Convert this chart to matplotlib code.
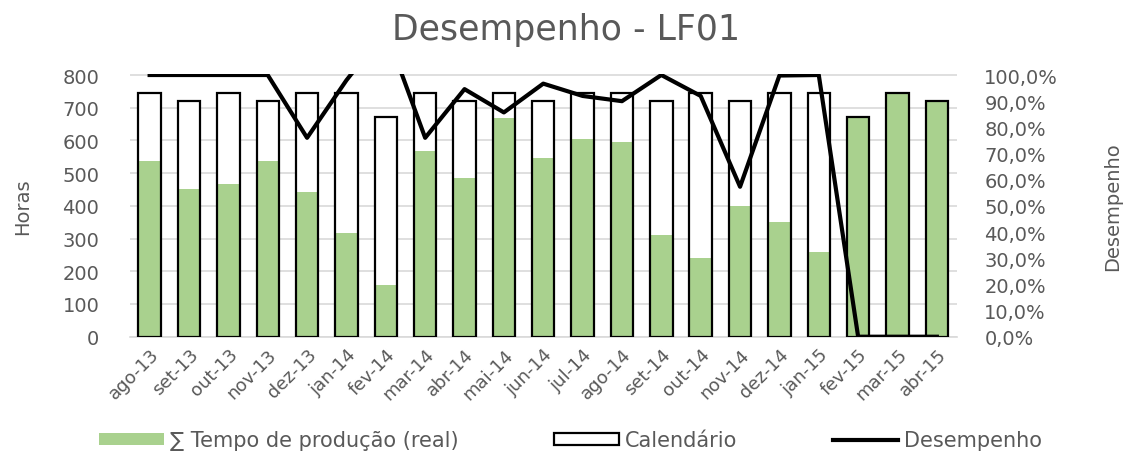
import matplotlib.pyplot as plt
import numpy as np
from matplotlib.ticker import FuncFormatter, MultipleLocator

plt.rc('font', family='DejaVu Sans')

meses = ['ago-13', 'set-13', 'out-13', 'nov-13', 'dez-13', 'jan-14', 'fev-14',
         'mar-14', 'abr-14', 'mai-14', 'jun-14', 'jul-14', 'ago-14', 'set-14',
         'out-14', 'nov-14', 'dez-14', 'jan-15', 'fev-15', 'mar-15', 'abr-15']
calendario = [744, 720, 744, 720, 744, 744, 672, 744, 720, 744, 720,
              744, 744, 720, 744, 720, 744, 744, 672, 744, 720]
tempo_real = [536, 451, 468, 536, 441, 316, 158, 569, 484, 668, 547,
              604, 594, 311, 241, 400, 352, 258, 672, 744, 720]
desempenho = [1.00, 1.00, 1.00, 1.00, 0.76, 0.98, 1.17, 0.76, 0.946, 0.857, 0.967,
              0.92, 0.90, 1.00, 0.92, 0.573, 0.998, 1.00, 0.0, 0.0, 0.0]

cinza = '#595959'
verde = '#A9D18E'

fig = plt.figure(figsize=(11.32, 4.56), dpi=100)
ax = fig.add_axes([0.1148, 0.2594, 0.7302, 0.5768])
x = np.arange(len(meses))
w = 0.57

# calendar bars: white fill underneath, outline on top of the green bars
ax.bar(x, calendario, w, color='white', zorder=2)
ax.bar(x, tempo_real, w, color=verde, zorder=3, label='∑ Tempo de produção (real)')
ax.bar(x, calendario, w, facecolor='none', edgecolor='black', linewidth=1.6,
       zorder=4, label='Calendário')

ax.set_xlim(-0.5, len(meses) - 0.5)
ax.set_ylim(0, 804)
ax.yaxis.set_major_locator(MultipleLocator(100))
ax.grid(axis='y', color='#d9d9d9', linewidth=1.2, zorder=0)
ax.set_axisbelow(True)
for s in ['top', 'right', 'left']:
    ax.spines[s].set_visible(False)
ax.spines['bottom'].set_color('#d9d9d9')
ax.spines['bottom'].set_linewidth(1.2)
ax.tick_params(axis='y', length=0, pad=22, labelsize=14, labelcolor=cinza)
ax.tick_params(axis='x', length=0, pad=6, labelsize=13, labelcolor=cinza)
ax.set_xticks(x)
ax.set_xticklabels(meses, rotation=45, ha='right', rotation_mode='anchor')
ax.set_ylabel('Horas', fontsize=14, color=cinza, labelpad=22)

ax2 = ax.twinx()
ax2.plot(x, desempenho, color='black', linewidth=3, zorder=5, label='Desempenho')
ax2.set_ylim(0, 1.005)
ax2.yaxis.set_major_locator(MultipleLocator(0.1))
ax2.yaxis.set_major_formatter(FuncFormatter(lambda v, p: f'{v*100:.1f}%'.replace('.', ',')))
for s in ['top', 'right', 'left', 'bottom']:
    ax2.spines[s].set_visible(False)
ax2.tick_params(axis='y', length=0, pad=20, labelsize=14, labelcolor=cinza)
ax2.set_ylabel('Desempenho', fontsize=14, color=cinza, labelpad=32)

fig.suptitle('Desempenho - LF01', fontsize=25, color=cinza, x=0.5, y=0.934, va='center')

h1, l1 = ax.get_legend_handles_labels()
h2, l2 = ax2.get_legend_handles_labels()
fig.legend(h1 + h2, l1 + l2, loc='center', bbox_to_anchor=(0.504, 0.032),
           ncol=3, frameon=False, fontsize=15, labelcolor=cinza,
           handlelength=3.1, handleheight=0.55, columnspacing=4.6, handletextpad=0.3,
           borderpad=0)

fig.savefig('out.png', dpi=100)
